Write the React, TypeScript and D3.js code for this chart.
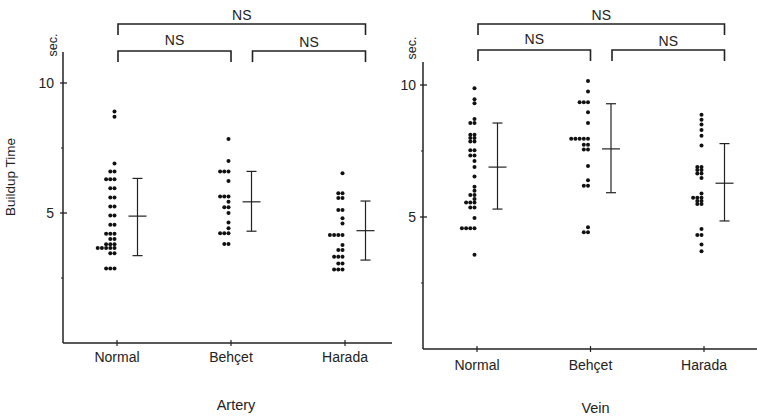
import React from "react";
import * as d3 from "d3";

const categories = ["Normal", "Behçet", "Harada"];

// Artery buildup time (sec.) per subject
const arteryNormal = [8.9, 8.7, 6.9, 6.6, 6.6, 6.3, 6.3, 6.3, 5.95, 5.95, 5.6, 5.6, 5.25, 5.25, 4.9, 4.9, 4.55, 4.55, 4.2, 4.2, 4.2, 4.0, 4.0, 3.8, 3.8, 3.8, 3.65, 3.65, 3.65, 3.65, 3.65, 3.45, 3.45, 2.87, 2.87, 2.87];
const arteryBehcet = [7.85, 7.0, 6.6, 6.6, 6.6, 6.23, 5.63, 5.63, 5.63, 5.43, 5.22, 5.22, 5.0, 4.63, 4.41, 4.22, 4.22, 4.22, 3.81, 3.81];
const arteryHarada = [6.53, 5.76, 5.76, 5.58, 5.58, 5.12, 5.12, 4.8, 4.6, 4.15, 4.15, 4.15, 4.15, 3.77, 3.58, 3.58, 3.32, 3.32, 3.32, 3.06, 3.06, 2.83, 2.83, 2.83];

// Vein buildup time (sec.) per subject
const veinNormal = [9.88, 9.46, 9.31, 8.71, 8.56, 8.56, 8.12, 8.12, 7.99, 7.99, 7.86, 7.86, 7.53, 7.53, 7.33, 7.33, 7.12, 6.89, 6.53, 6.15, 5.99, 5.83, 5.83, 5.68, 5.55, 5.55, 5.55, 5.36, 5.36, 4.96, 4.57, 4.57, 4.57, 4.57, 3.57];
const veinBehcet = [10.15, 9.75, 9.35, 9.35, 9.35, 8.97, 8.56, 7.96, 7.96, 7.96, 7.96, 7.96, 7.74, 7.74, 7.56, 7.56, 6.93, 6.39, 6.18, 6.18, 4.61, 4.42, 4.42];
const veinHarada = [8.87, 8.68, 8.5, 8.3, 8.08, 7.71, 6.89, 6.89, 6.78, 6.78, 6.65, 6.65, 6.48, 5.89, 5.73, 5.73, 5.73, 5.61, 5.61, 5.49, 5.49, 4.55, 4.32, 4.32, 3.96, 3.7];

// mean ± SD summaries
const arteryMean = [4.88, 5.43, 4.32];
const arteryUpper = [6.33, 6.6, 5.46];
const arteryLower = [3.36, 4.3, 3.19];
const veinMean = [6.89, 7.58, 6.28];
const veinUpper = [8.56, 9.29, 7.78];
const veinLower = [5.3, 5.92, 4.85];

const yTicks = [5, 10];
const yMinorTicks = [2.5, 7.5];
const significance = ["NS", "NS", "NS"];

const FONT = "'Liberation Sans', Arial, Helvetica, sans-serif";
const INK = "#222";

type PanelProps = {
  groups: number[][];
  means: number[];
  uppers: number[];
  lowers: number[];
  title: string;
  axisX: number;
  axisTop: number;
  y0: number;
  y10: number;
  xRange: [number, number];
  xEnd: number;
  labelEndX: number;
  catLabelY: number;
  titleY: number;
  secX: number;
  secY: number;
  bracketTopY: number;
  bracketLowY: number;
};

function Panel(p: PanelProps) {
  const y = d3.scaleLinear().domain([0, 10]).range([p.y0, p.y10]);
  const x = d3.scalePoint<string>().domain(categories).range(p.xRange);
  const dotOffset = -2.5;
  const barOffset = 20.5;
  const spacing = 4.2;

  const dots: { cx: number; cy: number; key: string }[] = [];
  p.groups.forEach((vals, gi) => {
    const counts = new Map<number, number>();
    vals.forEach((v, i) => {
      const k = counts.get(v) || 0;
      counts.set(v, k + 1);
      dots.push({
        cx: (x(categories[gi]) as number) + dotOffset - k * spacing,
        cy: y(v),
        key: `${gi}-${i}`,
      });
    });
  });

  const xs = categories.map((c) => x(c) as number);
  const b1 = xs[0] + 1;
  const b2 = xs[1];
  const b3 = xs[1] + barOffset + 1;
  const b4 = xs[2] + barOffset;
  const tickH = 11;
  const bracket = (x1: number, x2: number, yy: number) =>
    `M${x1},${yy + tickH}V${yy}H${x2}V${yy + tickH}`;

  return (
    <g fontFamily={FONT} fill={INK}>
      {/* axes */}
      <line x1={p.axisX} x2={p.axisX} y1={p.axisTop} y2={p.y0} stroke={INK} strokeWidth={1.5} />
      <line x1={p.axisX} x2={p.xEnd} y1={p.y0} y2={p.y0} stroke={INK} strokeWidth={1.5} />
      {yTicks.map((t) => (
        <g key={t}>
          <line x1={p.axisX - 3} x2={p.axisX + 4} y1={y(t)} y2={y(t)} stroke={INK} strokeWidth={1.3} />
          <text x={p.labelEndX} y={y(t)} dy="0.36em" textAnchor="end" fontSize={14}>
            {t}
          </text>
        </g>
      ))}
      {yMinorTicks.map((t) => (
        <line key={t} x1={p.axisX - 2} x2={p.axisX} y1={y(t)} y2={y(t)} stroke={INK} strokeWidth={1} />
      ))}
      <text transform={`translate(${p.secX},${p.secY}) rotate(-90)`} textAnchor="middle" fontSize={12.5}>
        sec.
      </text>
      {categories.map((c) => (
        <g key={c}>
          <line x1={x(c)} x2={x(c)} y1={p.y0 - 3} y2={p.y0 + 3} stroke={INK} strokeWidth={1.2} />
          <text x={x(c)} y={p.catLabelY} textAnchor="middle" fontSize={14}>
            {c}
          </text>
        </g>
      ))}
      <text x={(xs[0] + xs[2]) / 2 + 5} y={p.titleY} textAnchor="middle" fontSize={14.5}>
        {p.title}
      </text>

      {/* dots */}
      {dots.map((d) => (
        <circle key={d.key} cx={d.cx} cy={d.cy} r={2} fill="#111" />
      ))}

      {/* mean ± SD */}
      {categories.map((c, i) => {
        const bx = (x(c) as number) + barOffset;
        return (
          <g key={c} stroke={INK} strokeWidth={1.2} fill="none">
            <line x1={bx} x2={bx} y1={y(p.uppers[i])} y2={y(p.lowers[i])} />
            <line x1={bx - 5} x2={bx + 5} y1={y(p.uppers[i])} y2={y(p.uppers[i])} />
            <line x1={bx - 5} x2={bx + 5} y1={y(p.lowers[i])} y2={y(p.lowers[i])} />
            <line x1={bx - 9} x2={bx + 9} y1={y(p.means[i])} y2={y(p.means[i])} />
          </g>
        );
      })}

      {/* significance brackets */}
      <g stroke={INK} strokeWidth={1.6} fill="none">
        <path d={bracket(b1, b4, p.bracketTopY)} />
        <path d={bracket(b1, b2, p.bracketLowY)} />
        <path d={bracket(b3, b4, p.bracketLowY)} />
      </g>
      <text x={(b1 + b4) / 2} y={p.bracketTopY - 4} textAnchor="middle" fontSize={14}>
        {significance[0]}
      </text>
      <text x={(b1 + b2) / 2} y={p.bracketLowY - 6} textAnchor="middle" fontSize={14}>
        {significance[1]}
      </text>
      <text x={(b3 + b4) / 2} y={p.bracketLowY - 4} textAnchor="middle" fontSize={14}>
        {significance[2]}
      </text>
    </g>
  );
}

export default function App() {
  return (
    <svg width={757} height={419} style={{ position: "absolute", left: 0, top: 0, background: "#fff" }}>
      <rect width={757} height={419} fill="#fff" />
      <text
        transform="translate(15,177) rotate(-90)"
        textAnchor="middle"
        fontSize={13.5}
        fontFamily={FONT}
        fill={INK}
      >
        Buildup Time
      </text>
      <Panel
        groups={[arteryNormal, arteryBehcet, arteryHarada]}
        means={arteryMean}
        uppers={arteryUpper}
        lowers={arteryLower}
        title="Artery"
        axisX={63}
        axisTop={52}
        y0={343}
        y10={83}
        xRange={[117, 345]}
        xEnd={392}
        labelEndX={54}
        catLabelY={362}
        titleY={410}
        secX={57}
        secY={45}
        bracketTopY={24}
        bracketLowY={51}
      />
      <Panel
        groups={[veinNormal, veinBehcet, veinHarada]}
        means={veinMean}
        uppers={veinUpper}
        lowers={veinLower}
        title="Vein"
        axisX={423}
        axisTop={62}
        y0={349}
        y10={85}
        xRange={[477, 704]}
        xEnd={757}
        labelEndX={416}
        catLabelY={370}
        titleY={413}
        secX={416}
        secY={48}
        bracketTopY={24}
        bracketLowY={50}
      />
    </svg>
  );
}
